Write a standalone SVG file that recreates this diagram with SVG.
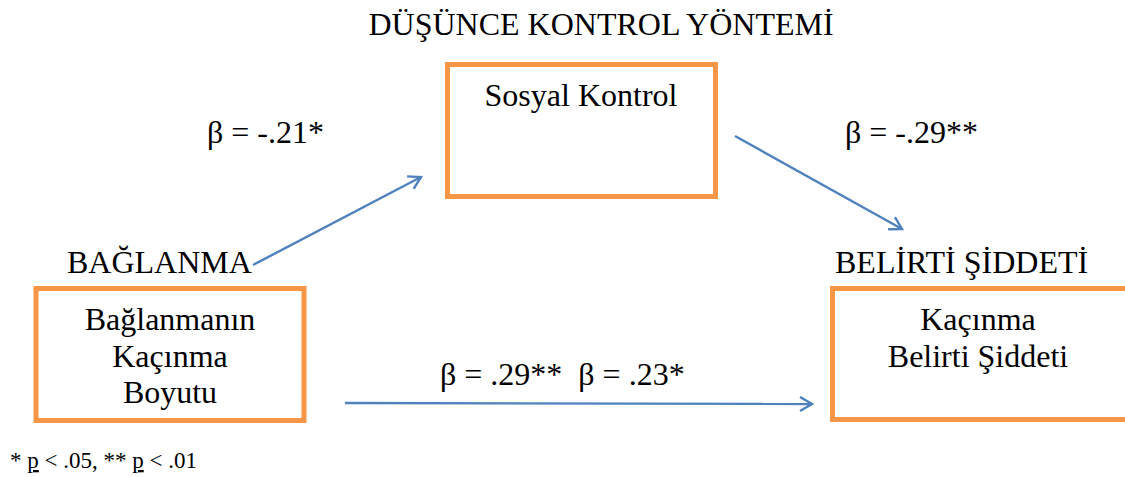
<svg xmlns="http://www.w3.org/2000/svg" width="1125" height="477" viewBox="0 0 1125 477">
<style>
text{font-family:"Liberation Serif","Times New Roman",serif;fill:#000;font-size:32px}
.box{fill:#fff;stroke:#F79646;stroke-width:5}
.c{text-anchor:middle}
.conn{stroke:#4F81BD;stroke-width:2.4;fill:none}
.note{font-size:23px}
</style>
<defs>
<marker id="arr" markerWidth="16" markerHeight="16" refX="13" refY="8" orient="auto" markerUnits="userSpaceOnUse">
<path d="M1,1 L13,8 L1,15" fill="none" stroke="#4F81BD" stroke-width="2.4"/>
</marker>
</defs>
<rect width="1125" height="477" fill="#fff"/>
<text class="c" x="601" y="35">DÜŞÜNCE KONTROL YÖNTEMİ</text>
<g id="sosyal">
<rect class="box" x="447.5" y="64.5" width="268" height="132"/>
<text class="c" x="581" y="106">Sosyal Kontrol</text>
</g>
<g id="baglanma">
<text x="67" y="273">BAĞLANMA</text>
<rect class="box" x="36" y="288.5" width="268" height="132"/>
<text class="c" x="170" y="330">Bağlanmanın</text>
<text class="c" x="170" y="367">Kaçınma</text>
<text class="c" x="170" y="403">Boyutu</text>
</g>
<g id="belirti">
<text x="835" y="273">BELİRTİ ŞİDDETİ</text>
<rect class="box" x="832.5" y="288.5" width="295" height="131"/>
<text class="c" x="978" y="330">Kaçınma</text>
<text class="c" x="978" y="367">Belirti Şiddeti</text>
</g>
<g id="connectors">
<line class="conn" x1="253" y1="265" x2="421" y2="177" marker-end="url(#arr)"/>
<line class="conn" x1="735" y1="136" x2="902" y2="229" marker-end="url(#arr)"/>
<line class="conn" x1="345" y1="403" x2="812" y2="404" marker-end="url(#arr)"/>
</g>
<g id="labels">
<text x="207" y="143">β = -.21*</text>
<text x="845" y="143">β = -.29**</text>
<text x="440" y="385" xml:space="preserve">β = .29**  β = .23*</text>
<text class="note" x="10" y="468">* <tspan text-decoration="underline">p</tspan> &lt; .05, ** <tspan text-decoration="underline">p</tspan> &lt; .01</text>
</g>
</svg>
